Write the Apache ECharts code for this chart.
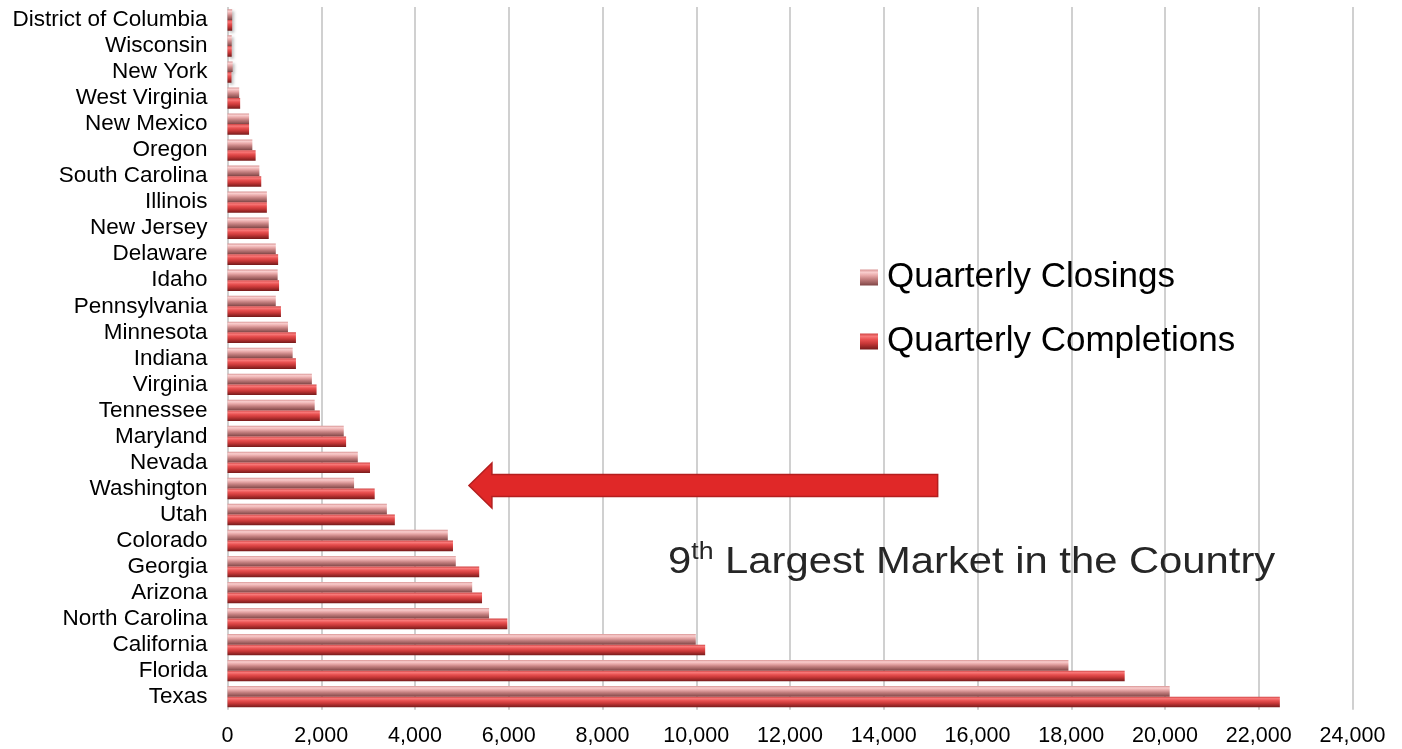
<!DOCTYPE html>
<html>
<head>
<meta charset="utf-8">
<script src="https://cdn.jsdelivr.net/npm/echarts@6/dist/echarts.min.js"></script>
<style>
  html, body { margin: 0; padding: 0; background: #ffffff; }
  #chart { width: 1402px; height: 749px; }
</style>
</head>
<body>
<div id="chart"></div>
<script>
// States, listed from the bottom row of the chart to the top row
const states = [
  'Texas', 'Florida', 'California', 'North Carolina', 'Arizona', 'Georgia',
  'Colorado', 'Utah', 'Washington', 'Nevada', 'Maryland', 'Tennessee',
  'Virginia', 'Indiana', 'Minnesota', 'Pennsylvania', 'Idaho', 'Delaware',
  'New Jersey', 'Illinois', 'South Carolina', 'Oregon', 'New Mexico',
  'West Virginia', 'New York', 'Wisconsin', 'District of Columbia'
];

// Quarterly closings per state (same order as states)
const closings = [
  20100, 17940, 9990, 5580, 5220, 4870,
  4700, 3400, 2700, 2780, 2480, 1860,
  1800, 1390, 1290, 1030, 1070, 1030,
  880, 840, 680, 530, 460,
  250, 110, 90, 100
];

// Quarterly completions per state (same order as states)
const completions = [
  22450, 19140, 10190, 5970, 5430, 5370,
  4810, 3570, 3140, 3040, 2530, 1970,
  1900, 1460, 1460, 1140, 1100, 1080,
  880, 840, 720, 600, 460,
  270, 85, 90, 100
];

// Value axis ticks
const xMin = 0;
const xMax = 24000;
const xStep = 2000;

// Callout: arrow pointing at the highlighted state, plus its caption
const calloutState = 'Washington';
const arrowFrom = 15150;
const arrowTo = 5150;
const captionRank = '9';
const captionSuffix = 'th';
const captionText = ' Largest Market in the Country';

const FONT = '"Liberation Sans", Arial, Helvetica, sans-serif';

// Vertical gradient across each bar's thickness for a rounded, tube-like look
function cylinder(stops) {
  return new echarts.graphic.LinearGradient(0, 0, 0, 1,
    stops.map(function (s) { return { offset: s[0], color: s[1] }; }));
}

const pinkFill = cylinder([
  [0, '#d89494'], [0.18, '#f9cdcd'], [0.38, '#e8a8a8'],
  [0.6, '#c48080'], [0.85, '#9a5c5c'], [1, '#7e4444']
]);
const redFill = cylinder([
  [0, '#d04444'], [0.18, '#f87878'], [0.38, '#e85050'],
  [0.62, '#c83838'], [0.85, '#962626'], [1, '#741a1a']
]);

const chart = echarts.init(document.getElementById('chart'), null, { renderer: 'canvas' });

const barShadow = {
  shadowBlur: 3,
  shadowOffsetX: 2,
  shadowOffsetY: 2,
  shadowColor: 'rgba(0,0,0,0.25)'
};

chart.setOption({
  animation: false,
  backgroundColor: '#ffffff',
  grid: { left: 227.5, right: 49.5, top: 7, bottom: 39.3, containLabel: false },
  legend: {
    orient: 'vertical',
    left: 855,
    top: 255,
    icon: 'rect',
    itemWidth: 18,
    itemHeight: 16,
    itemGap: 29,
    data: ['Quarterly Closings', 'Quarterly Completions'],
    textStyle: { fontSize: 35, color: '#000000', fontFamily: FONT, padding: [0, 0, 0, 4] }
  },
  xAxis: {
    type: 'value',
    min: xMin,
    max: xMax,
    interval: xStep,
    axisLine: { show: false },
    axisTick: { show: false },
    axisLabel: {
      fontSize: 21.5,
      color: '#000000',
      fontFamily: FONT,
      margin: 15,
      formatter: function (v) { return v.toLocaleString('en-US'); }
    },
    splitLine: { show: true, lineStyle: { color: '#d0d0d0', width: 2 } }
  },
  yAxis: {
    type: 'category',
    data: states,
    axisLine: { show: false },
    axisTick: { show: false },
    axisLabel: { interval: 0, fontSize: 22.5, color: '#000000', fontFamily: FONT, margin: 20 },
    splitLine: { show: false }
  },
  series: [
    {
      name: 'Quarterly Closings',
      type: 'bar',
      data: closings,
      barGap: '0%',
      barCategoryGap: '18%',
      itemStyle: Object.assign({ color: pinkFill }, barShadow)
    },
    {
      name: 'Quarterly Completions',
      type: 'bar',
      data: completions,
      barGap: '0%',
      barCategoryGap: '18%',
      itemStyle: Object.assign({ color: redFill }, barShadow)
    }
  ]
});

// Arrow and caption, positioned from data coordinates
const tail = chart.convertToPixel({ gridIndex: 0 }, [arrowFrom, calloutState]);
const tip = chart.convertToPixel({ gridIndex: 0 }, [arrowTo, calloutState]);
const ay = tip[1] - 3;
const headLen = 23, headHalf = 22.5, shaftHalf = 11;

chart.setOption({
  graphic: [
    {
      type: 'polygon',
      z: 100,
      shape: {
        points: [
          [tip[0], ay],
          [tip[0] + headLen, ay - headHalf],
          [tip[0] + headLen, ay - shaftHalf],
          [tail[0], ay - shaftHalf],
          [tail[0], ay + shaftHalf],
          [tip[0] + headLen, ay + shaftHalf],
          [tip[0] + headLen, ay + headHalf]
        ]
      },
      style: { fill: '#e02828', stroke: '#b41e1e', lineWidth: 1.5 }
    },
    {
      type: 'text',
      z: 100,
      x: 668,
      y: 563,
      scaleX: 1.16,
      style: {
        text: '{n|' + captionRank + '}{s|' + captionSuffix + '}{n|' + captionText + '}',
        verticalAlign: 'middle',
        align: 'left',
        rich: {
          n: { fontSize: 36, fontFamily: FONT, fill: '#262626', lineHeight: 44 },
          s: { fontSize: 23, fontFamily: FONT, fill: '#262626', verticalAlign: 'top', lineHeight: 26 }
        }
      }
    }
  ]
});
</script>
</body>
</html>
